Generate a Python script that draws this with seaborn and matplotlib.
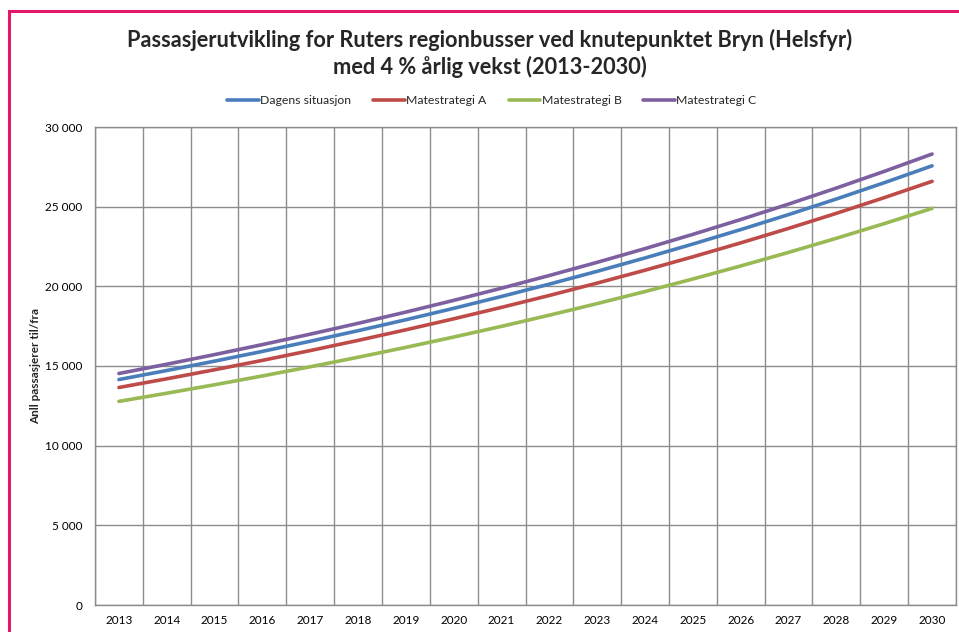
import matplotlib
matplotlib.use("Agg")
import matplotlib.pyplot as plt
from matplotlib.patches import Rectangle
from matplotlib.ticker import FuncFormatter, FixedLocator
import seaborn as sns
import pandas as pd

years = list(range(2013, 2031))

dagens = [14150, 14716, 15305, 15917, 16553, 17216, 17904, 18620, 19365,
          20140, 20945, 21783, 22655, 23561, 24503, 25483, 26503, 27563]
strategi_a = [13650, 14196, 14764, 15354, 15968, 16607, 17272, 17962, 18681,
              19428, 20205, 21014, 21854, 22728, 23637, 24583, 25566, 26589]
strategi_b = [12780, 13291, 13823, 14376, 14951, 15549, 16171, 16818, 17490,
              18190, 18918, 19674, 20461, 21280, 22131, 23016, 23937, 24894]
strategi_c = [14530, 15111, 15716, 16344, 16998, 17678, 18385, 19120, 19885,
              20681, 21508, 22368, 23263, 24193, 25161, 26168, 27215, 28303]

series_names = ["Dagens situasjon", "Matestrategi A", "Matestrategi B", "Matestrategi C"]
series_colors = ["#4a7ebb", "#be4b48", "#98b954", "#7d60a0"]

sns.set_theme(style="white")
plt.rcParams["font.family"] = ["Lato", "DejaVu Sans"]

frames = []
for name, vals in zip(series_names, [dagens, strategi_a, strategi_b, strategi_c]):
    frames.append(pd.DataFrame({"idx": range(len(years)), "verdi": vals, "serie": name}))
df = pd.concat(frames, ignore_index=True)

fig = plt.figure(figsize=(9.59, 6.32), dpi=100)
ax = fig.add_axes([95 / 959, 27 / 632, (956 - 95) / 959, (605 - 127) / 632])

sns.lineplot(data=df, x="idx", y="verdi", hue="serie", palette=series_colors,
             hue_order=series_names, linewidth=2.6, ax=ax, legend=False)

grid_col = "#8c8c8c"
ax.set_xlim(-0.5, len(years) - 0.5)
ax.set_ylim(0, 30000)
ax.set_xticks(range(len(years)))
ax.set_xticklabels([str(y) for y in years])
ax.xaxis.set_minor_locator(FixedLocator([i - 0.5 for i in range(len(years) + 1)]))
ax.set_yticks(range(0, 30001, 5000))
ax.yaxis.set_major_formatter(FuncFormatter(lambda v, p: f"{int(v):,}".replace(",", " ")))

ax.tick_params(axis="x", which="major", length=0, labelsize=8.5, pad=7, colors="#000000")
ax.tick_params(axis="x", which="minor", length=5, width=1, color=grid_col, direction="out")
ax.tick_params(axis="y", which="major", length=5, width=1, labelsize=8.5,
               direction="out", pad=4, colors="#000000")
ax.tick_params(axis="y", which="major", color=grid_col)
ax.grid(False)
ax.grid(True, axis="x", which="minor", color=grid_col, linewidth=1)
ax.grid(True, axis="y", which="major", color=grid_col, linewidth=1)
ax.set_axisbelow(True)
for s in ax.spines.values():
    s.set_color(grid_col)
    s.set_linewidth(1)

ax.set_xlabel("")
ax.set_ylabel("Anll passasjerer til/fra", fontsize=8.5, fontweight="bold", labelpad=3)

fig.text(490 / 959, 1 - 40 / 632, "Passasjerutvikling for Ruters regionbusser ved knutepunktet Bryn (Helsfyr)",
         ha="center", va="center", fontsize=15.7, fontweight="bold")
fig.text(490 / 959, 1 - 67 / 632, "med 4 % årlig vekst (2013-2030)",
         ha="center", va="center", fontsize=15.7, fontweight="bold")

handles = [plt.Line2D([], [], color=c, linewidth=2.6) for c in series_colors]
fig.legend(handles, series_names, loc="center", bbox_to_anchor=(492 / 959, 1 - 101 / 632),
           ncol=4, frameon=False, fontsize=8.8, handlelength=2.6, handletextpad=0.1,
           columnspacing=1.8)

fig.patches.append(Rectangle((9 / 959, -0.1), 1.2, 1 - 11 / 632 + 0.1, transform=fig.transFigure,
                             fill=False, edgecolor="#e5176a", linewidth=2.2))

fig.savefig("out.png", dpi=100)
